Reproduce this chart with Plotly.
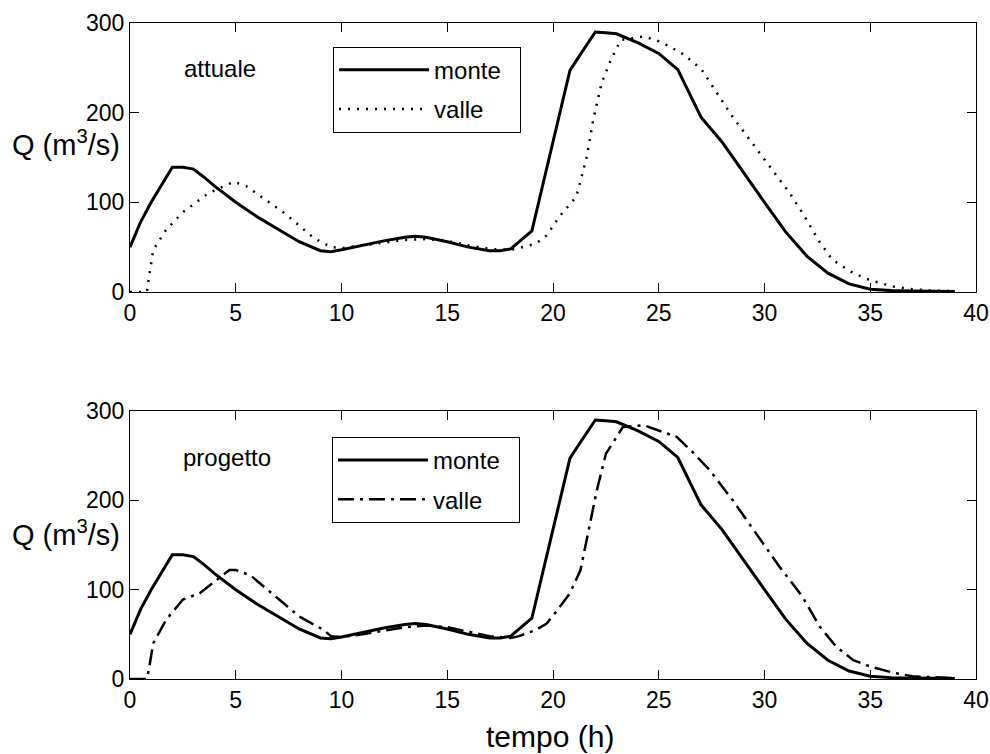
import plotly.graph_objects as go

# ---- data ----
t_monte = [0, 0.5, 1.0, 1.5, 2.0, 2.5, 3.0, 3.5, 4.0, 5.0, 6.0, 7.0, 8.0, 9.0, 9.5, 10.0,
           11.0, 12.0, 13.0, 13.5, 14.0, 15.0, 16.0, 17.0, 17.5, 18.0, 19.0, 19.5, 20.0,
           20.5, 20.8, 21.1, 21.5, 22.0, 22.5, 23.0, 24.0, 25.0, 25.9, 26.5, 27.0, 28.0,
           29.0, 30.0, 31.0, 32.0, 33.0, 34.0, 35.0, 36.0, 37.0, 39.0]
q_monte = [50, 78, 100, 120, 139, 139, 137, 128, 118, 100, 84, 70, 56, 46, 45, 47,
           52, 57, 61, 62, 61, 56, 50, 46, 46, 48, 68, 118, 168,
           217, 247, 258, 272, 290, 289, 288, 278, 266, 248, 220, 195, 167,
           133, 100, 67, 40, 21, 9, 3, 1.5, 1, 0.5]

t_valle_att = [0, 0.8, 0.9, 1.1, 1.7, 2.5, 3.7, 4.9, 5.5, 6.2, 7.3, 8.7, 9.5, 10, 11, 12,
               13, 14, 15, 16, 17, 18, 18.4, 19.2, 19.7, 20.3, 21.1, 21.6, 21.9, 22.3,
               22.7, 23.2, 24.3, 25.1, 26.1, 27.0, 27.6, 28.5, 29.2, 30.2, 31.2, 31.8,
               32.6, 33.2, 34.2, 35.0, 36.1, 37, 38, 39]
q_valle_att = [0, 0, 17, 47, 69, 89, 110, 123, 118, 106, 88, 60, 50, 49, 52, 55,
               58, 59, 57, 52, 48, 47, 49, 54, 63, 84, 106, 151, 192, 233,
               257, 281, 285, 279, 266, 249, 227, 195, 173, 142, 110, 88,
               56, 36, 21, 13, 6, 3, 1.5, 1]

t_valle_prog = [0, 0.8, 0.9, 1.1, 1.7, 2.5, 3.3, 3.9, 4.7, 5.0, 5.7, 6.9, 8.0, 9.15, 9.5,
                10, 11, 12, 13, 14, 15, 16, 17, 18, 18.4, 19.2, 19.7, 20.2, 20.8, 21.3,
                21.75, 22.07, 22.5, 22.9, 23.3, 24.3, 25.06, 25.85, 26.6, 27.4, 28.5,
                29.8, 30.7, 31.8, 32.6, 33.4, 34.2, 35.0, 36.1, 37, 38, 39]
q_valle_prog = [0, 0, 12, 40, 66, 89, 96, 107, 122, 122, 116, 92, 70, 55, 48,
                47, 50, 54, 58, 60, 58, 53, 48, 46, 48, 55, 62, 77, 96, 122,
                174, 211, 252, 267, 282, 284, 278, 271, 254, 234, 200,
                156, 126, 92, 59, 36, 21, 14, 7, 3, 2, 1]

x_ticks = [0, 5, 10, 15, 20, 25, 30, 35, 40]
y_ticks = [0, 100, 200, 300]

FONT = "Arial, Liberation Sans, Helvetica, sans-serif"
PAD = "\u00a0\u00a0"

fig = go.Figure()

fig.add_trace(go.Scatter(x=t_monte, y=q_monte, name="monte" + PAD, mode="lines",
                         line=dict(color="black", width=3), xaxis="x", yaxis="y",
                         legend="legend", legendgroup="a1"))
fig.add_trace(go.Scatter(x=t_valle_att, y=q_valle_att, name="valle" + PAD, mode="lines",
                         line=dict(color="black", width=2.5, dash="2px,7px"),
                         xaxis="x", yaxis="y", legend="legend", legendgroup="a2"))
fig.add_trace(go.Scatter(x=t_monte, y=q_monte, name="monte" + PAD, mode="lines",
                         line=dict(color="black", width=3), xaxis="x2", yaxis="y2",
                         legend="legend2", legendgroup="b1"))
fig.add_trace(go.Scatter(x=t_valle_prog, y=q_valle_prog, name="valle" + PAD, mode="lines",
                         line=dict(color="black", width=2.5, dash="16px,6px,3px,6px"),
                         xaxis="x2", yaxis="y2", legend="legend2", legendgroup="b2"))

axis_common = dict(showline=True, linecolor="black", linewidth=1, mirror="ticks",
                   ticks="inside", ticklen=9, tickcolor="black", tickwidth=1,
                   showgrid=False, zeroline=False, automargin=False,
                   tickfont=dict(family=FONT, size=23, color="black"))

legend_common = dict(xanchor="left", yanchor="top", bgcolor="white",
                     bordercolor="black", borderwidth=1, itemwidth=90,
                     tracegroupgap=5,
                     font=dict(family=FONT, size=24, color="black"))

fig.update_layout(
    template="none",
    width=990, height=754,
    margin=dict(l=130, r=14, t=23, b=75),
    paper_bgcolor="white", plot_bgcolor="white",
    font=dict(family=FONT, color="black"),
    xaxis=dict(domain=[0, 1], range=[0, 40], tickvals=x_ticks, anchor="y", **axis_common),
    yaxis=dict(domain=[0.590, 1], range=[0, 300], tickvals=y_ticks, anchor="x", **axis_common),
    xaxis2=dict(domain=[0, 1], range=[0, 40], tickvals=x_ticks, anchor="y2", **axis_common),
    yaxis2=dict(domain=[0, 0.4085], range=[0, 300], tickvals=y_ticks, anchor="x2", **axis_common),
    legend=dict(x=0.24, y=0.964, **legend_common),
    legend2=dict(x=0.2388, y=0.369, **legend_common),
    annotations=[
        dict(text="attuale", x=0.1064, y=0.931, xref="paper", yref="paper",
             xanchor="center", yanchor="middle",
             showarrow=False, font=dict(family=FONT, size=24)),
        dict(text="progetto", x=0.115, y=0.337, xref="paper", yref="paper",
             xanchor="center", yanchor="middle",
             showarrow=False, font=dict(family=FONT, size=24)),
        dict(text="Q (m<sup>3</sup>/s)", x=-0.0757, y=0.817, xref="paper", yref="paper",
             xanchor="center", yanchor="middle",
             showarrow=False, font=dict(family=FONT, size=29)),
        dict(text="Q (m<sup>3</sup>/s)", x=-0.0757, y=0.2226, xref="paper", yref="paper",
             xanchor="center", yanchor="middle",
             showarrow=False, font=dict(family=FONT, size=29)),
        dict(text="tempo (h)", x=0.4965, y=-0.0884, xref="paper", yref="paper",
             xanchor="center", yanchor="middle",
             showarrow=False, font=dict(family=FONT, size=30)),
    ],
    showlegend=True,
)

fig.write_html("out.html")
